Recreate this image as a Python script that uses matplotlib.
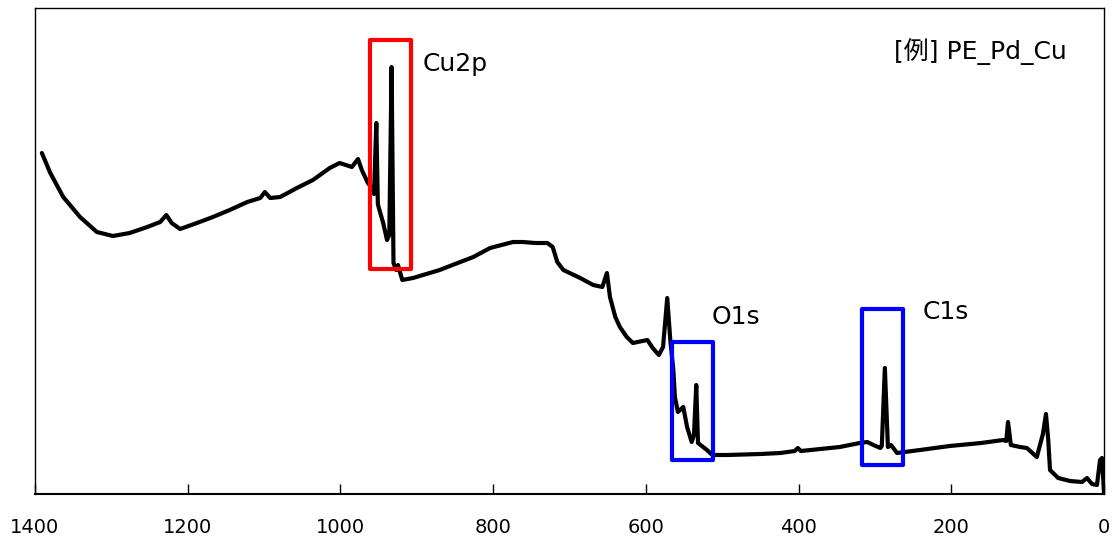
"""XPS survey spectrum of PE_Pd_Cu with boxed Cu2p / O1s / C1s regions."""
import matplotlib
matplotlib.use("Agg")
import matplotlib.pyplot as plt
from matplotlib.patches import Rectangle

plt.rcParams["font.family"] = ["DejaVu Sans", "Noto Sans CJK JP"]

# binding energy (eV) and intensity (a.u.)
binding_energy = [
    1391, 1380, 1363, 1341, 1319, 1298, 1276, 1253, 1236, 1228, 1221, 1210,
    1188, 1167, 1145, 1122, 1105, 1099, 1092, 1079, 1057, 1036, 1014, 1001,
    985, 977, 972, 964, 957, 956, 953, 951, 950, 944, 939, 936, 933, 930.5,
    927, 924.6, 919, 905, 870, 860, 826, 804, 774, 761, 745, 729, 722, 716,
    708, 686, 669, 657, 651, 647, 640, 634, 625, 617, 598, 591, 583, 577.5,
    572, 568, 564, 562, 558, 551, 546, 540, 537, 534, 531.7, 525, 520, 513,
    494, 450, 424, 405, 401, 397, 346, 320, 310, 302, 293, 291, 287, 283,
    279, 271, 241, 202, 161, 132, 128, 125.7, 122, 110, 101, 88, 80, 76, 73,
    70.7, 60, 44.5, 28.8, 22.3, 15.7, 9.2, 5.2, 2.6, 0,
]
intensity = [
    341, 321, 297, 277, 262, 258, 261, 267, 272, 279, 271, 265,
    271, 277, 284, 292, 296, 302, 296, 297, 306, 314, 326, 331,
    327, 335, 324, 311, 304, 300, 371, 290, 287, 271, 254, 259, 427, 231,
    224, 229, 214, 216, 224, 227, 237, 246, 252, 252, 251, 251, 247, 232,
    224, 216, 209, 207, 221, 197, 177, 167, 157, 151, 154, 146, 139, 147,
    196, 154, 124, 97, 82, 87, 67, 52, 59, 109, 51, 47, 44, 39,
    39, 40, 41, 43, 46, 43, 47, 51, 52, 49, 46, 48, 126, 47,
    49, 41, 44, 48, 51, 54, 53, 72, 49, 47, 46, 37, 60, 80, 54,
    24, 16, 13, 12, 16, 10, 9, 34, 36, 1,
]

x_ticks = [1400, 1200, 1000, 800, 600, 400, 200, 0]

# highlighted regions: (label, BE low, BE high, I low, I high, colour, label x, label y)
regions = [
    ("Cu2p", 907, 961, 225, 454, "#FF0000", 893, 430),
    ("O1s", 512, 566, 34, 152, "#0000FF", 514, 177),
    ("C1s", 263, 317, 29, 185, "#0000FF", 237, 182),
]

fig = plt.figure(figsize=(11.15, 5.42), dpi=100)
ax = fig.add_axes([35 / 1115, 48 / 542, 1069 / 1115, 486 / 542])

ax.plot(binding_energy, intensity, color="black", lw=3.0,
        solid_joinstyle="round", solid_capstyle="round", zorder=3)

for label, lo, hi, ylo, yhi, color, tx, ty in regions:
    ax.add_patch(Rectangle((lo, ylo), hi - lo, yhi - ylo, fill=False,
                           edgecolor=color, lw=3.0, joinstyle="round", zorder=4))
    ax.text(tx, ty, label, fontsize=18, ha="left", va="center", zorder=5)

ax.text(0.965, 0.91, "[例] PE_Pd_Cu", transform=ax.transAxes,
        fontsize=18, ha="right", va="center")

ax.set_xlim(1400, 0)
ax.set_ylim(0, 486)
ax.set_xticks(x_ticks)
ax.set_yticks([])
ax.tick_params(axis="x", direction="in", length=7, width=1, pad=17,
               labelsize=14)
for side in ("top", "right", "left"):
    ax.spines[side].set_linewidth(1.0)
ax.spines["bottom"].set_linewidth(1.5)

fig.savefig("out.png", dpi=100)
